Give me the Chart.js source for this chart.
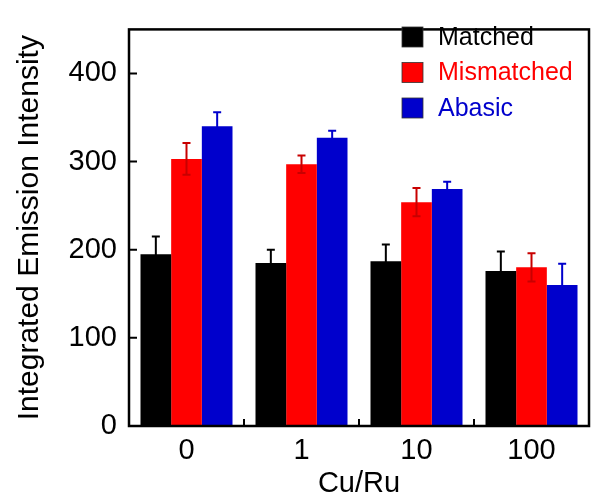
<!DOCTYPE html>
<html>
<head>
<meta charset="utf-8">
<script src="https://cdn.jsdelivr.net/npm/chart.js@4.4.0/dist/chart.umd.min.js"></script>
<style>
  html, body { margin: 0; padding: 0; background: #fff; }
  #wrap { width: 601px; height: 501px; }
</style>
</head>
<body>
<div id="wrap"><canvas id="grafico" width="601" height="501"></canvas></div>
<script>
// datos
const categorias = ['0', '1', '10', '100'];
const matched = [195, 185, 187, 176];
const mismatched = [303, 297, 254, 180];
const abasic = [340, 327, 269, 160];
const errMatched = [20, 15, 19, 22];
const errMismatched = [18, 10, 16, 16];
const errAbasic = [16, 8, 8, 24];
const yTicks = [0, 100, 200, 300, 400];

const fuente = "'Liberation Sans', Arial, sans-serif";

// barras de error dibujadas con la escala y
const errorBars = {
    id: 'errorBars',
    afterDatasetsDraw(chart) {
        const ctx = chart.ctx;
        const y = chart.scales.y;
        chart.data.datasets.forEach((ds, i) => {
            const meta = chart.getDatasetMeta(i);
            meta.data.forEach((bar, j) => {
                const v = ds.data[j];
                const e = ds.errores[j];
                const yTop = y.getPixelForValue(v + e);
                const yBot = y.getPixelForValue(v - e);
                ctx.save();
                ctx.strokeStyle = ds.errColor;
                ctx.lineWidth = 2;
                ctx.beginPath();
                ctx.moveTo(bar.x, yTop);
                ctx.lineTo(bar.x, yBot);
                ctx.moveTo(bar.x - 4, yTop);
                ctx.lineTo(bar.x + 4, yTop);
                ctx.moveTo(bar.x - 4, yBot);
                ctx.lineTo(bar.x + 4, yBot);
                ctx.stroke();
                ctx.restore();
            });
        });
    }
};

// marco, ticks hacia adentro y leyenda
const marco = {
    id: 'marco',
    afterDraw(chart) {
        const ctx = chart.ctx;
        const a = chart.chartArea;
        const y = chart.scales.y;
        const x = chart.scales.x;
        ctx.save();
        ctx.strokeStyle = '#000';
        ctx.lineWidth = 2.5;
        ctx.strokeRect(a.left, a.top, a.right - a.left, a.bottom - a.top);
        ctx.lineWidth = 2;
        ctx.beginPath();
        yTicks.forEach(t => {
            const py = y.getPixelForValue(t);
            ctx.moveTo(a.left, py);
            ctx.lineTo(a.left + 8, py);
        });
        for (let i = 1; i < categorias.length; i++) {
            const px = (x.getPixelForValue(i - 1) + x.getPixelForValue(i)) / 2;
            ctx.moveTo(px, a.bottom);
            ctx.lineTo(px, a.bottom - 7);
        }
        ctx.stroke();

        // leyenda
        ctx.font = '25px ' + fuente;
        ctx.textBaseline = 'middle';
        ctx.textAlign = 'left';
        chart.data.datasets.forEach((ds, i) => {
            const cy = 37 + i * 35.5;
            ctx.fillStyle = ds.backgroundColor;
            ctx.fillRect(402, cy - 10, 21, 20);
            ctx.strokeStyle = '#333';
            ctx.lineWidth = 0.8;
            ctx.strokeRect(402, cy - 10, 21, 20);
            ctx.fillStyle = ds.textColor;
            ctx.fillText(ds.label, 438, cy + 1);
        });
        ctx.restore();
    }
};

const ctx = document.getElementById('grafico').getContext('2d');
new Chart(ctx, {
    type: 'bar',
    data: {
        labels: categorias,
        datasets: [
            { label: 'Matched', data: matched, errores: errMatched, backgroundColor: '#000000', errColor: '#000000', textColor: '#000000' },
            { label: 'Mismatched', data: mismatched, errores: errMismatched, backgroundColor: '#ff0000', errColor: '#c80000', textColor: '#ff0000' },
            { label: 'Abasic', data: abasic, errores: errAbasic, backgroundColor: '#0000cc', errColor: '#0000cc', textColor: '#0000cc' }
        ]
    },
    options: {
        responsive: false,
        animation: false,
        layout: { padding: { top: 12, right: 12, left: 0, bottom: 0 } },
        datasets: { bar: { categoryPercentage: 0.8, barPercentage: 1.0 } },
        plugins: {
            legend: { display: false },
            tooltip: { enabled: false }
        },
        scales: {
            x: {
                grid: { display: false, drawTicks: false },
                border: { display: false },
                ticks: { color: '#000', padding: 8, font: { family: fuente, size: 29 } },
                title: {
                    display: true, text: 'Cu/Ru', color: '#000',
                    font: { family: fuente, size: 29 }, padding: { top: 0, bottom: 0 }
                },
                afterFit(scale) { scale.height = 75; }
            },
            y: {
                min: 0,
                max: 450,
                grid: { display: false, drawTicks: false },
                border: { display: false },
                afterBuildTicks(scale) { scale.ticks = yTicks.map(v => ({ value: v })); },
                ticks: { color: '#000', padding: 12, font: { family: fuente, size: 29 } },
                title: {
                    display: true, text: 'Integrated Emission Intensity', color: '#000',
                    font: { family: fuente, size: 30 }, padding: { top: 12, bottom: 0 }
                },
                afterFit(scale) { scale.width = 129; }
            }
        }
    },
    plugins: [errorBars, marco]
});
</script>
</body>
</html>
